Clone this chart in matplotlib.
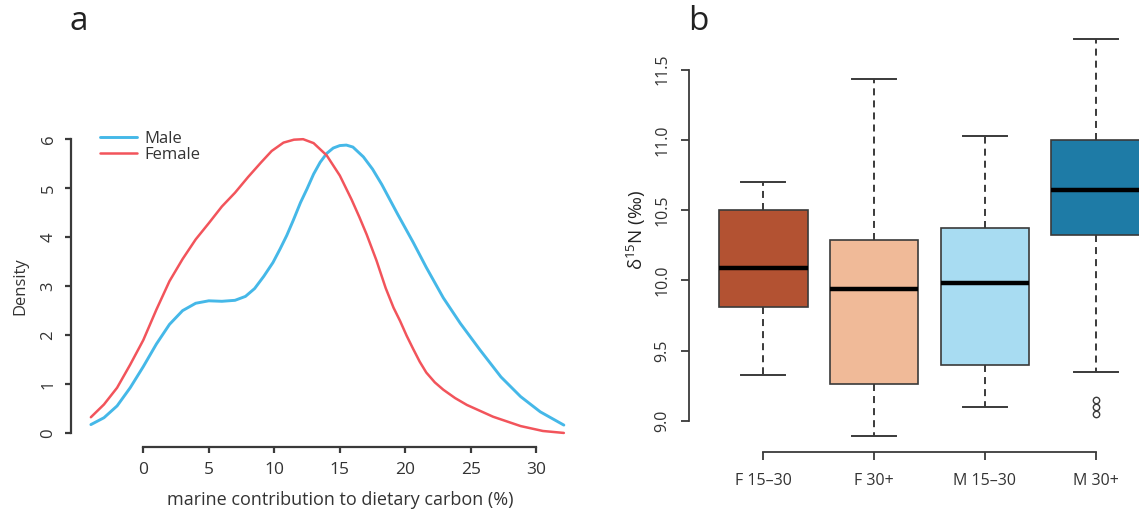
#!/usr/bin/env python3
# -*- coding: utf-8 -*-
"""a: density of marine carbon contribution by sex; b: d15N boxplots by sex/age group."""
import matplotlib; matplotlib.use("Agg")
import matplotlib.pyplot as plt

plt.rcParams["font.family"] = ["Open Sans", "DejaVu Sans"]
plt.rcParams["mathtext.fontset"] = "custom"
plt.rcParams["mathtext.rm"] = "Open Sans"
plt.rcParams["mathtext.it"] = "Open Sans:italic"

# --- panel a: kernel density curves ---
male_x = [-4.0, -3.0, -2.0, -1.0, 0.0, 1.0, 2.0, 3.0, 4.0, 5.0, 6.0, 7.0, 7.8, 8.5, 9.2, 9.9,
          10.45, 10.95, 11.45, 12.0, 12.5, 13.0, 13.5, 14.0, 14.5, 15.0, 15.5, 16.0, 16.8,
          17.5, 18.2, 19.4, 20.6, 21.6, 22.9, 24.2, 25.7, 27.3, 28.8, 30.3, 32.1]
male_d = [0.18, 0.32, 0.56, 0.93, 1.36, 1.82, 2.22, 2.50, 2.65, 2.70, 2.69, 2.71, 2.79, 2.95, 3.20, 3.48,
          3.76, 4.03, 4.34, 4.70, 4.98, 5.28, 5.52, 5.70, 5.81, 5.86, 5.87, 5.83, 5.63,
          5.38, 5.07, 4.47, 3.89, 3.38, 2.76, 2.24, 1.70, 1.15, 0.75, 0.44, 0.17]
female_x = [-4.0, -3.0, -2.0, -1.0, 0.0, 1.0, 2.0, 3.0, 4.0, 5.0, 6.0, 7.0, 8.0, 9.0, 9.8,
            10.7, 11.5, 12.2, 13.0, 14.0, 15.0, 15.9, 16.5, 17.05, 17.8, 18.5, 19.1, 19.6,
            20.1, 20.6, 21.1, 21.6, 22.25, 22.9, 23.8, 24.7, 26.7, 28.8, 30.5, 32.1]
female_d = [0.33, 0.59, 0.93, 1.40, 1.90, 2.52, 3.10, 3.55, 3.95, 4.28, 4.62, 4.90, 5.22, 5.52, 5.75,
            5.92, 5.98, 5.99, 5.91, 5.66, 5.25, 4.76, 4.40, 4.05, 3.52, 2.96, 2.56, 2.29,
            1.99, 1.72, 1.46, 1.24, 1.04, 0.89, 0.72, 0.58, 0.34, 0.15, 0.05, 0.01]

# --- panel b: box summaries ---
groups = ["F 15–30", "F 30+", "M 15–30", "M 30+"]
whislo = [9.33, 8.89, 9.10, 9.35]
q1     = [9.81, 9.26, 9.40, 10.32]
med    = [10.09, 9.94, 9.98, 10.64]
q3     = [10.50, 10.29, 10.37, 11.00]
whishi = [10.70, 11.43, 11.03, 11.72]
fliers = [[], [], [], [9.05, 9.10, 9.15]]
box_cols = ["#B35232", "#F0BA98", "#A8DCF2", "#1E7BA6"]

AX = "#3a3a3a"
W, H = 1139, 513

fig = plt.figure(figsize=(W/100, H/100), dpi=100)

def rect(l, r, t, b):
    return [l/W, 1-b/H, (r-l)/W, (b-t)/H]

# ---------- a ----------
ax = fig.add_axes(rect(70.7, 583.5, 127.4, 446.7))
ax.plot(male_x, male_d, color="#45B8E8", lw=2.1, solid_capstyle="round", solid_joinstyle="round", label="Male")
ax.plot(female_x, female_d, color="#F2545B", lw=1.8, solid_capstyle="round", solid_joinstyle="round", label="Female")
ax.set_xlim(-5.54, 33.6); ax.set_ylim(-0.27, 6.23)
for s in ("top", "right"): ax.spines[s].set_visible(False)
ax.spines["left"].set_bounds(0, 6); ax.spines["bottom"].set_bounds(0, 30)
for s in ("left", "bottom"):
    ax.spines[s].set_color(AX); ax.spines[s].set_linewidth(1.6)
ax.set_xticks(range(0, 31, 5)); ax.set_yticks(range(0, 7))
ax.tick_params(axis="x", length=4.2, width=1.6, color=AX, pad=7, labelsize=12.5, labelcolor="#333")
ax.tick_params(axis="y", length=4.2, width=1.6, color=AX, pad=6, labelsize=12, labelcolor="#333",
               labelrotation=90)
for t in ax.get_yticklabels(): t.set_va("center")
ax.legend(loc="upper left", bbox_to_anchor=(0.057, 0.988), frameon=False, fontsize=12,
          handlelength=2.2, handletextpad=0.45, labelspacing=0.0, borderpad=0, borderaxespad=0,
          labelcolor="#333")
fig.text(20/W, 1-286/H, "Density", rotation=90, ha="center", va="center", fontsize=12, color="#333")
fig.text(340/W, 1-500/H, "marine contribution to dietary carbon (%)", ha="center", va="center",
         fontsize=13, color="#333")
fig.text(79/W, 1-22/H, "a", ha="center", va="center", fontsize=24, color="#222")

# ---------- b ----------
bx = fig.add_axes(rect(689.3, 1139, 22.7, 452.3))
stats = [dict(label=g, whislo=lo, q1=a, med=m, q3=b, whishi=hi, fliers=f)
         for g, lo, a, m, b, hi, f in zip(groups, whislo, q1, med, q3, whishi, fliers)]
bp = bx.bxp(stats, positions=[1, 2, 3, 4], widths=0.8, capwidths=0.4, patch_artist=True,
            boxprops=dict(edgecolor=AX, linewidth=1.2),
            medianprops=dict(color="black", linewidth=3.2, solid_capstyle="butt"),
            whiskerprops=dict(color=AX, linewidth=1.4, linestyle=(0, (3.6, 2.6))),
            capprops=dict(color=AX, linewidth=1.4),
            flierprops=dict(marker="o", markersize=4.6, markerfacecolor="none",
                            markeredgecolor=AX, markeredgewidth=1.0))
for p, c in zip(bp["boxes"], box_cols): p.set_facecolor(c)
bx.set_xlim(0.332, 4.39); bx.set_ylim(8.777, 11.833)
for s in ("top", "right"): bx.spines[s].set_visible(False)
bx.spines["left"].set_bounds(9.0, 11.5); bx.spines["bottom"].set_bounds(1, 4)
for s in ("left", "bottom"):
    bx.spines[s].set_color(AX); bx.spines[s].set_linewidth(1.3)
bx.set_yticks([9.0, 9.5, 10.0, 10.5, 11.0, 11.5])
bx.set_yticklabels(["9.0", "9.5", "10.0", "10.5", "11.0", "11.5"])
bx.tick_params(axis="x", length=5.8, width=1.3, color=AX, pad=9, labelsize=11.5, labelcolor="#333")
bx.tick_params(axis="y", length=5.8, width=1.3, color=AX, pad=8, labelsize=11.5, labelcolor="#333",
               labelrotation=90)
for t in bx.get_yticklabels(): t.set_va("center")
fig.text(636/W, 1-230/H, r"δ$^{15}$N (‰)", rotation=90, ha="center", va="center",
         fontsize=13.5, color="#222")
fig.text(698/W, 1-22/H, "b", ha="center", va="center", fontsize=24, color="#222")

fig.savefig("out.png", dpi=100)
